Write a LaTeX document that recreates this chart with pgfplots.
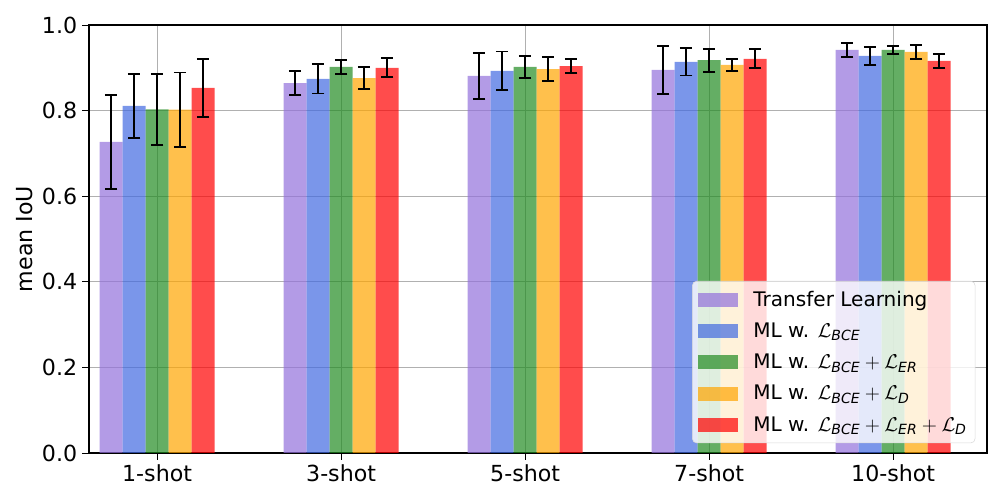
\documentclass[border=0pt]{standalone}
\usepackage{fontspec}
\setmainfont{DejaVu Sans}
\usepackage{amsmath}
\usepackage{pgfplots}
\usepackage{pgfplotstable}
\pgfplotsset{compat=1.18}
\definecolor{cpurple}{HTML}{9370DB}
\definecolor{cblue}{HTML}{4169E1}
\definecolor{cgreen}{HTML}{228B22}
\definecolor{corange}{HTML}{FFA500}
\definecolor{cred}{HTML}{FF0000}
\definecolor{gridgray}{HTML}{B0B0B0}
\pgfplotstableread{
x y e
-0.25 0.727 0.110
0.75 0.864 0.028
1.75 0.881 0.053
2.75 0.895 0.056
3.75 0.942 0.017
}\tpurple
\pgfplotstableread{
x y e
-0.125 0.811 0.074
0.875 0.874 0.034
1.875 0.893 0.045
2.875 0.914 0.032
3.875 0.928 0.021
}\tblue
\pgfplotstableread{
x y e
0 0.803 0.083
1 0.902 0.016
2 0.902 0.026
3 0.918 0.027
4 0.942 0.010
}\tgreen
\pgfplotstableread{
x y e
0.125 0.802 0.087
1.125 0.876 0.025
2.125 0.897 0.028
3.125 0.907 0.014
4.125 0.937 0.016
}\torange
\pgfplotstableread{
x y e
0.25 0.853 0.068
1.25 0.900 0.022
2.25 0.904 0.017
3.25 0.921 0.022
4.25 0.916 0.016
}\tred
\newcommand{\Lc}[1]{\mathcal{L}_{\text{\itshape #1}}}
\begin{document}
\begin{tikzpicture}
\begin{axis}[
  at={(0.89in,0.47in)}, anchor=south west,
  scale only axis, width=8.98in, height=4.28in,
  xmin=-0.37, xmax=4.51, ymin=0, ymax=1,
  ybar, bar width=0.125, bar shift=0pt,
  xtick={0,1,2,3,4},
  xticklabels={1-shot,3-shot,5-shot,7-shot,10-shot},
  ytick={0,0.2,0.4,0.6,0.8,1.0},
  yticklabel style={/pgf/number format/.cd,fixed,fixed zerofill,precision=1},
  /pgf/number format/assume math mode=true,
  tick label style={font=\fontsize{16}{19}\selectfont, black},
  label style={font=\fontsize{16}{19}\selectfont},
  ylabel={mean IoU},
  ylabel style={at={(axis description cs:-0.0713,0.5)}, anchor=center},
  tick align=outside, tick pos=left,
  major tick length=5pt,
  every tick/.style={black, line width=0.6pt},
  axis line style={black, line width=0.8pt},
  grid=major,
  major grid style={gridgray, line width=0.6pt},
  legend style={at={(0.987,0.023)}, anchor=south east,
    draw=gray!30, rounded corners=3pt, fill=white, fill opacity=0.8, text opacity=1,
    font=\fontsize{14.5}{17}\selectfont, cells={anchor=west},
    row sep=6.5pt, inner xsep=4pt, inner ysep=5pt},
  legend image code/.code={\fill[#1,draw=none,sharp corners] (0pt,-5pt) rectangle (29pt,5pt);},
  legend cell align=left,
  every axis plot/.append style={draw=none, fill opacity=0.7,
    error bars/y dir=both, error bars/y explicit,
    error bars/error bar style={black, line width=1.4pt, opacity=1},
    error bars/error mark options={rotate=90, black, mark size=4.5pt, line width=1.4pt, opacity=1}},
]
\addplot[fill=cpurple] table[x=x,y=y,y error=e]{\tpurple};
\addlegendentry{\hspace{9pt}Transfer Learning}
\addplot[fill=cblue] table[x=x,y=y,y error=e]{\tblue};
\addlegendentry{\hspace{9pt}ML w. $\Lc{BCE}$}
\addplot[fill=cgreen] table[x=x,y=y,y error=e]{\tgreen};
\addlegendentry{\hspace{9pt}ML w. $\Lc{BCE}+\Lc{ER}$}
\addplot[fill=corange] table[x=x,y=y,y error=e]{\torange};
\addlegendentry{\hspace{9pt}ML w. $\Lc{BCE}+\Lc{D}$}
\addplot[fill=cred] table[x=x,y=y,y error=e]{\tred};
\addlegendentry{\hspace{9pt}ML w. $\Lc{BCE}+\Lc{ER}+\Lc{D}$}
\end{axis}
\pgfresetboundingbox
\path[use as bounding box] (0,0) rectangle (10in,5in);
\end{tikzpicture}
\end{document}
